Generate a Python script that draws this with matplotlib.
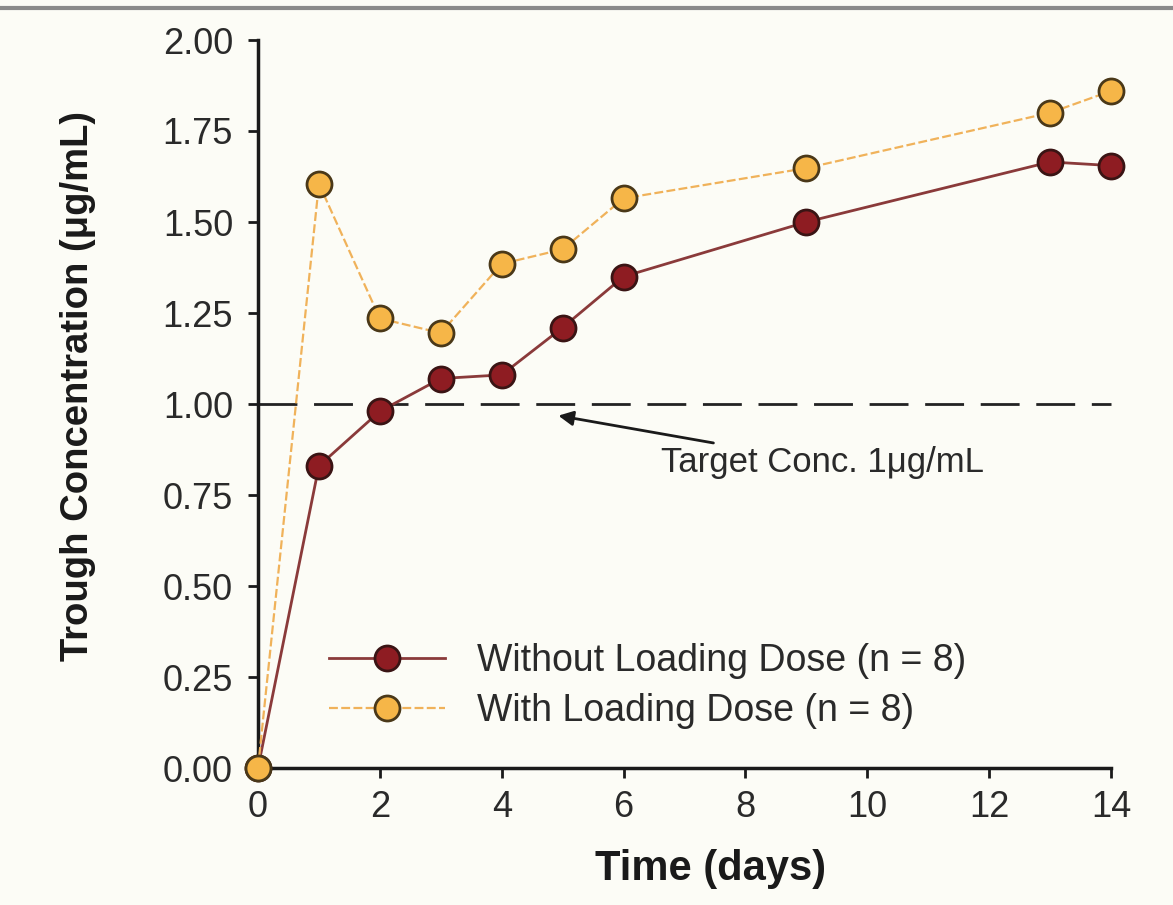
import matplotlib
matplotlib.use("Agg")
import matplotlib.pyplot as plt
from matplotlib.lines import Line2D

# Data
days = [0, 1, 2, 3, 4, 5, 6, 9, 13, 14]
without_loading = [0.0, 0.83, 0.98, 1.07, 1.08, 1.21, 1.35, 1.50, 1.665, 1.655]
with_loading = [0.0, 1.605, 1.235, 1.195, 1.385, 1.425, 1.565, 1.648, 1.80, 1.86]
target_conc = 1.0

x_ticks = [0, 2, 4, 6, 8, 10, 12, 14]
y_ticks = [0.0, 0.25, 0.5, 0.75, 1.0, 1.25, 1.5, 1.75, 2.0]

label_without = "Without Loading Dose (n = 8)"
label_with = "With Loading Dose (n = 8)"

BG = "#fcfcf6"
RED_FACE = "#8e1c22"
RED_EDGE = "#3a1414"
RED_LINE = "#8a3a3a"
YEL_FACE = "#f6b648"
YEL_EDGE = "#4a3818"
YEL_LINE = "#f0b25a"

plt.rcParams["font.family"] = ["Liberation Sans", "DejaVu Sans"]

fig = plt.figure(figsize=(11.73, 9.05), dpi=100, facecolor=BG)
ax = fig.add_axes([258 / 1173, 1 - 768 / 905, 853 / 1173, 728 / 905])
ax.set_facecolor(BG)

# grey rule across the top of the picture
fig.add_artist(Line2D([0, 1], [0.9915, 0.9915], color="#8a8a8a", lw=3,
                      transform=fig.transFigure))

# target concentration line
ax.plot([0, 14], [target_conc, target_conc], color="#222222", lw=2,
        dashes=(14, 6), zorder=1, clip_on=False)

ax.plot(days, without_loading, color=RED_LINE, lw=2.0, marker="o",
        markersize=18, markerfacecolor=RED_FACE, markeredgecolor=RED_EDGE,
        markeredgewidth=2, label=label_without, clip_on=False, zorder=3)
ax.plot(days, with_loading, color=YEL_LINE, lw=1.6, linestyle=(0, (4, 1.5)),
        marker="o", markersize=18, markerfacecolor=YEL_FACE,
        markeredgecolor=YEL_EDGE, markeredgewidth=2, label=label_with,
        clip_on=False, zorder=4)

ax.set_xlim(0, 14)
ax.set_ylim(0, 2)
ax.set_xticks(x_ticks)
ax.set_yticks(y_ticks)
ax.set_yticklabels([f"{v:.2f}" for v in y_ticks])

for side in ["top", "right"]:
    ax.spines[side].set_visible(False)
for side in ["left", "bottom"]:
    ax.spines[side].set_linewidth(2.5)
    ax.spines[side].set_color("#1a1a1a")

ax.tick_params(axis="both", labelsize=26, width=2, length=7, color="#1a1a1a",
               labelcolor="#2a2a2a")
ax.tick_params(axis="y", pad=11)
ax.tick_params(axis="x", pad=9)

ax.set_xlabel("Time (days)", fontsize=30, fontweight="bold", color="#1a1a1a")
ax.xaxis.set_label_coords(0.53, -0.111)
ax.set_ylabel("Trough Concentration (\u03bcg/mL)", fontsize=27.5,
              fontweight="bold", color="#1a1a1a",
              family=["Liberation Sans Narrow", "Liberation Sans"])
ax.yaxis.set_label_coords(-0.19, 0.525)

ax.annotate("Target Conc. 1\u03bcg/mL", xy=(4.93, 0.968), xytext=(6.62, 0.84),
            fontsize=25, color="#2a2a2a", va="center", ha="left",
            arrowprops=dict(arrowstyle="-|>", color="#1a1a1a", lw=2,
                            mutation_scale=22, shrinkA=0, shrinkB=0))

ax.legend(loc="upper left", bbox_to_anchor=(0.083, 0.172), frameon=False,
          fontsize=27, handlelength=3.1, handletextpad=0.85, labelspacing=0.38,
          borderpad=0, borderaxespad=0, labelcolor="#2a2a2a")

fig.savefig("out.png", dpi=100, facecolor=BG)
